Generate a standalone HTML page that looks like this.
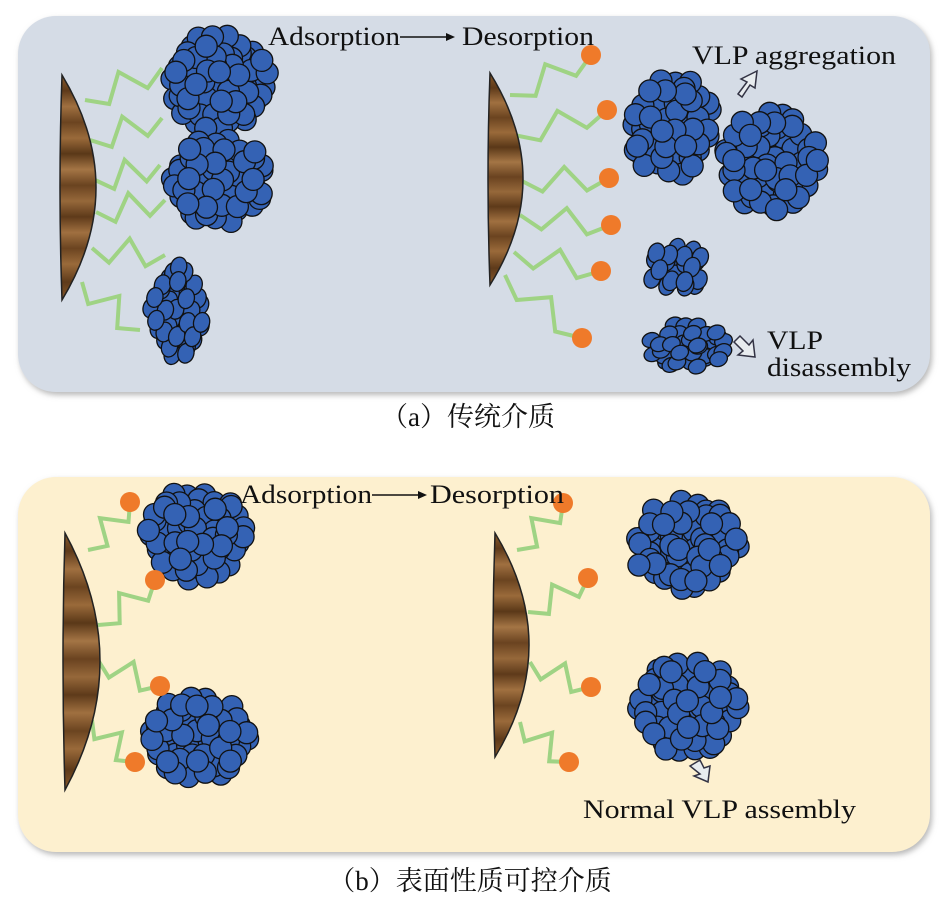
<!DOCTYPE html>
<html><head><meta charset="utf-8"><style>
html,body{margin:0;padding:0;background:#fff;}
svg{display:block;}
text{font-family:"Liberation Serif","Noto Serif CJK SC",serif;fill:#111;}
</style></head><body>
<svg id="s" width="943" height="914" viewBox="0 0 943 914" xmlns="http://www.w3.org/2000/svg">
<defs>
<linearGradient id="wood" x1="0" y1="0" x2="0" y2="1">
<stop offset="0" stop-color="#8a5a2b"/><stop offset="0.07" stop-color="#5e3a1a"/><stop offset="0.14" stop-color="#a07040"/>
<stop offset="0.21" stop-color="#6b4420"/><stop offset="0.28" stop-color="#9a6a3a"/><stop offset="0.35" stop-color="#5a3818"/>
<stop offset="0.42" stop-color="#a47545"/><stop offset="0.49" stop-color="#6a4320"/><stop offset="0.56" stop-color="#96683a"/>
<stop offset="0.63" stop-color="#5e3a1a"/><stop offset="0.7" stop-color="#a07040"/><stop offset="0.77" stop-color="#6b4420"/>
<stop offset="0.84" stop-color="#9a6a3a"/><stop offset="0.92" stop-color="#5e3a1a"/><stop offset="1" stop-color="#8a5a2b"/>
</linearGradient>
<filter id="sh" x="-5%" y="-5%" width="110%" height="110%"><feDropShadow dx="2" dy="3" stdDeviation="3" flood-color="#888" flood-opacity="0.6"/></filter>
</defs>
<rect x="18" y="16" width="912" height="376" rx="38" fill="#d5dce6" filter="url(#sh)"/>
<rect x="18" y="477" width="912" height="375" rx="38" fill="#fdf0cf" filter="url(#sh)"/>
<g id="g"></g>
<text x="268" y="45" font-size="26" textLength="132" lengthAdjust="spacingAndGlyphs">Adsorption</text>
<line x1="400" y1="37" x2="448" y2="37" stroke="#111" stroke-width="1.5"/><polygon points="455,37 446,33 446,41" fill="#111"/>
<text x="462" y="45" font-size="26" textLength="132" lengthAdjust="spacingAndGlyphs">Desorption</text>
<text x="692" y="64" font-size="26" textLength="204" lengthAdjust="spacingAndGlyphs">VLP aggregation</text>
<text x="767" y="349" font-size="26" textLength="56" lengthAdjust="spacingAndGlyphs">VLP</text>
<text x="767" y="376" font-size="26" textLength="144" lengthAdjust="spacingAndGlyphs">disassembly</text>
<text x="240" y="503" font-size="26" textLength="132" lengthAdjust="spacingAndGlyphs">Adsorption</text>
<line x1="372" y1="495" x2="420" y2="495" stroke="#111" stroke-width="1.5"/><polygon points="427,495 418,491 418,499" fill="#111"/>
<text x="430" y="503" font-size="26" textLength="134" lengthAdjust="spacingAndGlyphs">Desorption</text>
<text x="583" y="818" font-size="26" textLength="273" lengthAdjust="spacingAndGlyphs">Normal VLP assembly</text>
<text x="468" y="426" font-size="27" text-anchor="middle">（a）传统介质</text>
<text x="470" y="890" font-size="27" text-anchor="middle">（b）表面性质可控介质</text>
</svg>
<script>
var g=document.getElementById('g'),NS='http://www.w3.org/2000/svg';
function el(t,a){var e=document.createElementNS(NS,t);for(var k in a)e.setAttribute(k,a[k]);g.appendChild(e);return e;}
var seed=11;function rnd(){seed=(seed*16807)%2147483647;return seed/2147483647;}
function bead(x,y1,y2,w){var m=(y1+y2)/2;el('path',{d:'M'+x+' '+y1+' Q'+(x+w*2)+' '+m+' '+x+' '+y2+' Q'+(x-4)+' '+m+' '+x+' '+y1+' Z',fill:'url(#wood)',stroke:'#222','stroke-width':1.5});}
function zig(x1,y1,x2,y2,n,a){var dx=x2-x1,dy=y2-y1,L=Math.hypot(dx,dy),px=-dy/L,py=dx/L,p='M'+x1+' '+y1;
for(var i=1;i<n*2;i++){var t=i/(n*2),s=(i%2?1:-1)*a;p+=' L'+(x1+dx*t+px*s).toFixed(1)+' '+(y1+dy*t+py*s).toFixed(1);}
p+=' L'+x2+' '+y2;el('path',{d:p,fill:'none',stroke:'#9fd384','stroke-width':4,'stroke-linejoin':'miter'});}
function dot(x,y){el('circle',{cx:x,cy:y,r:10,fill:'#ef7a2a'});}
function cl(cx,cy,rx,ry,r,ell,rot){var arr=[],d=r*1.45;
for(var L=0;L<2;L++){var row=0;
for(var y=cy-ry+L*d*0.45;y<=cy+ry;y+=d*0.87){var off=(row++%2)*d/2+L*d*0.5;
for(var x=cx-rx+off;x<=cx+rx;x+=d){var jx=x+(rnd()-0.5)*5,jy=y+(rnd()-0.5)*5;
var q=Math.pow((jx-cx)/(rx-r*0.85),2)+Math.pow((jy-cy)/(ry-r*0.85),2);if(q<=1)arr.push([jx,jy,rnd()+(L?0.3:0)]);}}}
arr.sort(function(p,q){return p[2]-q[2];});
arr.forEach(function(p){if(ell)el('ellipse',{cx:p[0].toFixed(1),cy:p[1].toFixed(1),rx:r*0.8,ry:r,transform:'rotate('+rot+' '+p[0].toFixed(1)+' '+p[1].toFixed(1)+')',fill:'#3462b4',stroke:'#111','stroke-width':1.3});
else el('circle',{cx:p[0].toFixed(1),cy:p[1].toFixed(1),r:r,fill:'#3462b4',stroke:'#111','stroke-width':1.3});});}
// panel a left
[[85,100,162,68],[90,140,162,118],[95,180,160,165],[96,212,165,200],[92,248,165,255],[82,282,140,330]].forEach(function(z){zig(z[0],z[1],z[2],z[3],2,13);});
bead(62,75,300,34);
cl(218,82,60,58,11);cl(218,181,60,52,11);
cl(178,310,36,58,10,true,15);
// panel a right
[[510,95,591,55],[514,135,607,110],[520,180,609,178],[520,215,611,225],[514,252,601,271],[505,275,582,338]].forEach(function(z){zig(z[0],z[1],z[2],z[3],2,12);});
bead(490,73,285,33);
[[591,55],[607,110],[609,178],[611,225],[601,271],[582,338]].forEach(function(d){dot(d[0],d[1]);});
cl(672,128,52,60,11);cl(770,160,58,60,11);
cl(678,270,38,34,10,true,20);
cl(688,345,48,30,9,true,70);
// hollow arrows
el('path',{d:'M738 94 l9 -12 l-6 -3 l16 -8 l-2 17 l-5 -3 l-8 12 z',fill:'#e8ecef',stroke:'#334','stroke-width':1.5});
el('path',{d:'M740 336 l9 9 l4 -5 l2 17 l-17 -2 l5 -4 l-9 -9 z',fill:'#e8ecef',stroke:'#334','stroke-width':1.5});
el('path',{d:'M690 766 l10 -6 l4 8 l6 -2 l-2 16 l-14 -6 l6 -2 z',fill:'#e8ecef',stroke:'#334','stroke-width':1.5});
// panel b left
[[88,550,130,502],[98,625,155,580],[98,660,160,686],[92,720,135,762]].forEach(function(z){zig(z[0],z[1],z[2],z[3],2,12);});
bead(65,533,790,35);
cl(195,535,62,54,11);cl(196,738,62,54,11);
[[130,502],[155,580],[160,686],[135,762]].forEach(function(d){dot(d[0],d[1]);});
// panel b right
[[517,550,563,503],[528,612,588,578],[530,662,591,687],[520,722,569,762]].forEach(function(z){zig(z[0],z[1],z[2],z[3],2,12);});
bead(495,533,757,34);
[[563,503],[588,578],[591,687],[569,762]].forEach(function(d){dot(d[0],d[1]);});
cl(686,545,62,56,11);cl(686,707,62,56,11);
</script>
</body></html>
